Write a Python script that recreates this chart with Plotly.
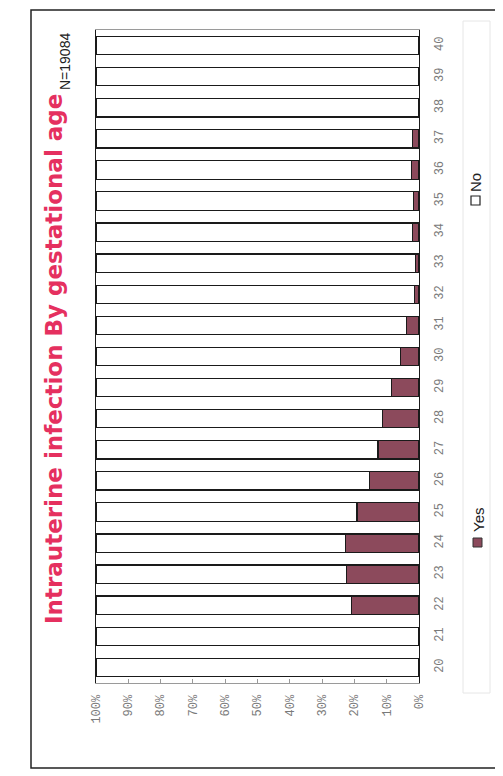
import plotly.graph_objects as go

weeks = ["20", "21", "22", "23", "24", "25", "26", "27", "28", "29", "30",
         "31", "32", "33", "34", "35", "36", "37", "38", "39", "40"]
yes_pct = [0, 0, 21.0, 22.5, 22.8, 19.2, 15.3, 12.7, 11.2, 8.6, 5.7,
           3.9, 1.4, 1.0, 2.1, 1.8, 2.2, 2.1, 0, 0, 0]
no_pct = [100, 100, 79.0, 77.5, 77.2, 80.8, 84.7, 87.3, 88.8, 91.4, 94.3,
          96.1, 98.6, 99.0, 97.9, 98.2, 97.8, 97.9, 100, 100, 100]
pct_ticks = [0, 10, 20, 30, 40, 50, 60, 70, 80, 90, 100]
pct_labels = ["0%", "10%", "20%", "30%", "40%", "50%", "60%", "70%", "80%", "90%", "100%"]

W_PX, H_PX = 503, 776
L, R, T, B = 88, 411, 22, 675
PW, PH = R - L, B - T


def px(x):
    return (x - L) / PW


def py(y):
    return 1 - (y - T) / PH


YES_COLOR = "#8c4a5c"
TICK_FONT = dict(family="Liberation Mono", size=12, color="#7a7a7a")

fig = go.Figure()
fig.add_trace(go.Bar(
    y=weeks, x=yes_pct, orientation="h", name="Yes",
    marker=dict(color=YES_COLOR, line=dict(color="#1a1a1a", width=1.2)),
))
fig.add_trace(go.Bar(
    y=weeks, x=no_pct, orientation="h", name="No",
    marker=dict(color="white", line=dict(color="#1a1a1a", width=1.2)),
))

fig.update_layout(
    width=W_PX, height=H_PX,
    margin=dict(l=L, r=W_PX - R, t=T, b=H_PX - B),
    barmode="stack", bargap=0.41,
    showlegend=False,
    paper_bgcolor="white", plot_bgcolor="white",
    xaxis=dict(
        range=[100, 0], tickvals=pct_ticks, ticktext=pct_labels,
        tickangle=-90, tickfont=TICK_FONT,
        ticks="inside", ticklen=4, tickcolor="#999999",
        showline=True, linecolor="#9a9a9a", linewidth=1, mirror=True,
        showgrid=False, zeroline=False, ticklabelstandoff=6,
    ),
    yaxis=dict(
        side="right", tickangle=-90, tickfont=TICK_FONT,
        showline=True, linecolor="#1a1a1a", linewidth=1.3, mirror=True,
        showgrid=False, ticks="", ticklabelstandoff=8,
    ),
)

shapes = [
    # outer frame
    dict(type="rect", xref="paper", yref="paper",
         x0=px(23), x1=px(493), y0=py(760), y1=py(2),
         line=dict(color="#222222", width=1.5), layer="below"),
    # faint legend box
    dict(type="rect", xref="paper", yref="paper",
         x0=px(455), x1=px(482), y0=py(685), y1=py(13),
         line=dict(color="#e6e6e6", width=1), layer="below"),
    # legend swatches
    dict(type="rect", xref="paper", yref="paper",
         x0=px(465), x1=px(474), y0=py(539), y1=py(530),
         fillcolor=YES_COLOR, line=dict(color="#333333", width=1)),
    dict(type="rect", xref="paper", yref="paper",
         x0=px(463), x1=px(472), y0=py(197), y1=py(188),
         fillcolor="white", line=dict(color="#222222", width=1.2)),
]

annotations = [
    dict(text="<b>Intrauterine infection By gestational age</b>",
         xref="paper", yref="paper", x=px(46), y=py(351),
         xanchor="center", yanchor="middle", textangle=-90, showarrow=False,
         font=dict(family="DejaVu Sans", size=23, color="#e5305f")),
    dict(text="N=19084", xref="paper", yref="paper", x=px(57), y=py(54),
         xanchor="center", yanchor="middle", textangle=-90, showarrow=False,
         font=dict(family="Liberation Sans", size=14, color="#222222")),
    dict(text="Yes", xref="paper", yref="paper", x=px(470), y=py(512),
         xanchor="center", yanchor="middle", textangle=-90, showarrow=False,
         font=dict(family="Liberation Sans", size=15, color="#222222")),
    dict(text="No", xref="paper", yref="paper", x=px(468), y=py(175),
         xanchor="center", yanchor="middle", textangle=-90, showarrow=False,
         font=dict(family="Liberation Sans", size=15, color="#222222")),
]

fig.update_layout(shapes=shapes, annotations=annotations)
fig.write_html("out.html")
